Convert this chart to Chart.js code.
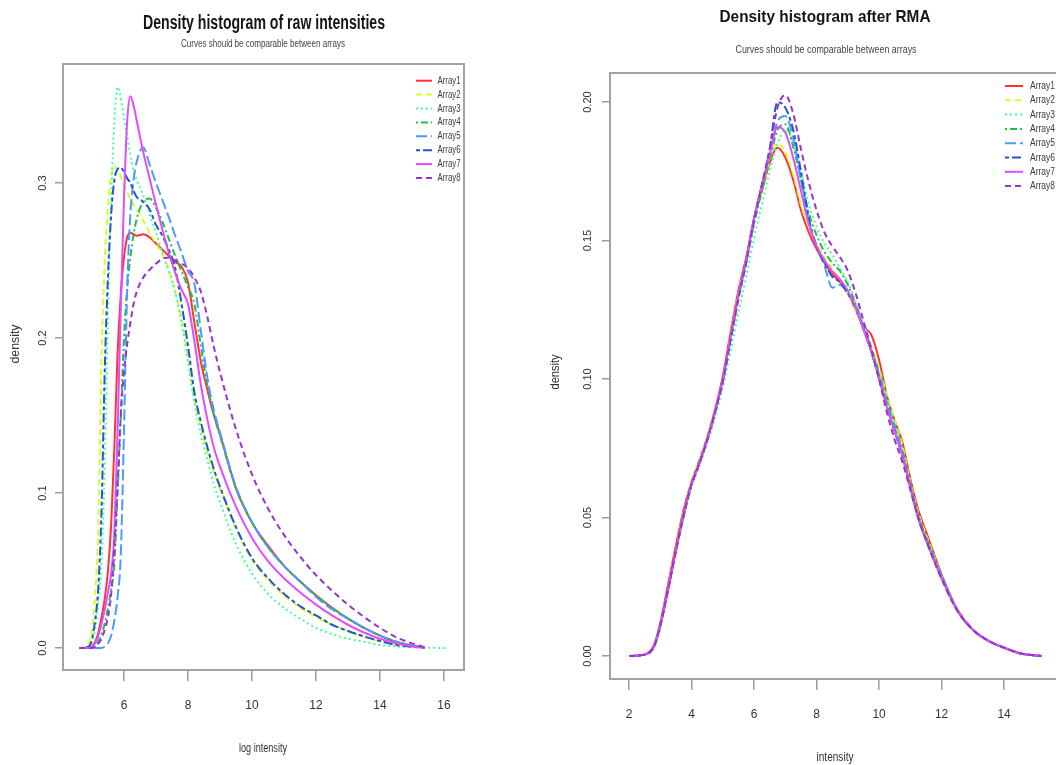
<!DOCTYPE html>
<html>
<head>
<meta charset="utf-8">
<script src="https://cdn.jsdelivr.net/npm/chart.js@4"></script>
<style>
html,body{margin:0;padding:0;background:#fff;overflow:hidden;width:1056px;height:765px;position:relative}
canvas{position:absolute;top:0}
</style>
</head>
<body>
<canvas id="rawChart" width="528" height="765" style="left:0px"></canvas>
<canvas id="rmaChart" width="540" height="765" style="left:528px"></canvas>
<script>
// ---------- data ----------
const seriesNames = ['Array1','Array2','Array3','Array4','Array5','Array6','Array7','Array8'];

// left panel: raw log intensities
const rawX = [4.6,4.9,5.0,5.1,5.2,5.3,5.4,5.5,5.6,5.7,5.8,5.9,6.0,6.1,6.2,6.3,6.4,6.6,6.8,7.0,7.2,7.4,7.6,7.8,8.0,8.2,8.4,8.6,8.8,9.0,9.5,10,10.5,11,11.5,12,12.5,13,13.5,14,14.5,15,15.4,16.1];
const raw1 = [0,0,0.001,0.004,0.01,0.02,0.032,0.05,0.08,0.13,0.19,0.228,0.252,0.265,0.268,0.267,0.266,0.267,0.265,0.261,0.257,0.253,0.249,0.246,0.236,0.21,0.185,0.167,0.151,0.138,0.103,0.081,0.066,0.053,0.043,0.034,0.026,0.019,0.013,0.008,0.004,0.0015,0.0003,null];
const raw2 = [0,0.003,0.012,0.035,0.08,0.19,0.25,0.285,0.305,0.311,0.308,0.304,0.299,0.294,0.29,0.286,0.283,0.276,0.268,0.261,0.254,0.244,0.23,0.212,0.187,0.16,0.143,0.127,0.114,0.103,0.077,0.057,0.044,0.034,0.026,0.02,0.015,0.011,0.007,0.0045,0.002,0.0008,0.0002,null];
const raw3 = [0,0,0.003,0.012,0.03,0.055,0.12,0.215,0.29,0.34,0.362,0.355,0.342,0.33,0.318,0.308,0.302,0.292,0.28,0.268,0.255,0.243,0.23,0.21,0.185,0.158,0.138,0.122,0.106,0.094,0.067,0.048,0.035,0.026,0.019,0.013,0.009,0.006,0.004,0.002,0.001,0.0005,0.0002,0];
const raw4 = [0,0,0,0.001,0.004,0.009,0.016,0.026,0.038,0.055,0.1,0.15,0.2,0.232,0.252,0.267,0.277,0.288,0.29,0.284,0.275,0.264,0.253,0.243,0.233,0.222,0.195,0.17,0.151,0.137,0.103,0.081,0.065,0.053,0.043,0.034,0.026,0.019,0.013,0.008,0.004,0.0015,0.0003,null];
const raw5 = [0,0,0,0,0,0,0.001,0.003,0.008,0.018,0.033,0.06,0.14,0.232,0.28,0.302,0.314,0.323,0.312,0.3,0.289,0.278,0.266,0.255,0.243,0.235,0.205,0.175,0.154,0.139,0.104,0.081,0.065,0.053,0.043,0.033,0.025,0.019,0.013,0.008,0.004,0.0015,0.0003,null];
const raw6 = [0,0.001,0.006,0.018,0.04,0.09,0.18,0.24,0.28,0.302,0.309,0.31,0.307,0.303,0.3,0.295,0.291,0.288,0.283,0.273,0.266,0.257,0.245,0.222,0.195,0.165,0.146,0.13,0.116,0.104,0.078,0.058,0.045,0.035,0.027,0.021,0.015,0.011,0.0075,0.0045,0.002,0.0008,0.0002,null];
const raw7 = [0,0,0.001,0.003,0.008,0.016,0.025,0.036,0.048,0.075,0.14,0.22,0.29,0.34,0.356,0.35,0.34,0.32,0.303,0.286,0.27,0.255,0.242,0.231,0.222,0.198,0.17,0.148,0.13,0.117,0.091,0.071,0.056,0.045,0.036,0.028,0.021,0.015,0.01,0.006,0.003,0.001,0.0002,null];
const raw8 = [0,0,0,0.001,0.003,0.006,0.012,0.02,0.035,0.065,0.105,0.15,0.178,0.196,0.21,0.222,0.23,0.239,0.244,0.248,0.251,0.252,0.25,0.248,0.245,0.239,0.23,0.214,0.195,0.178,0.141,0.112,0.09,0.073,0.059,0.047,0.037,0.028,0.02,0.013,0.007,0.003,0.0005,null];
const rawTicksX = [6,8,10,12,14,16];
const rawTicksY = [0,0.1,0.2,0.3];
const rawTickLabelsY = ['0.0','0.1','0.2','0.3'];

// right panel: after RMA
const rmaX = [2.0,2.5,2.8,3.0,3.25,3.5,3.75,4.0,4.2,4.5,4.75,5.0,5.25,5.5,5.75,6.0,6.25,6.5,6.75,7.0,7.25,7.5,7.75,8.0,8.25,8.5,8.75,9.0,9.25,9.5,9.75,10.0,10.25,10.5,10.75,11.0,11.25,11.5,12.0,12.5,13.0,13.5,14.0,14.5,15.0,15.2];
const rma1 = [0,0.0006,0.004,0.012,0.026,0.04,0.053,0.063,0.069,0.079,0.089,0.101,0.117,0.132,0.144,0.158,0.168,0.178,0.1835,0.18,0.172,0.161,0.153,0.147,0.142,0.138,0.135,0.131,0.125,0.119,0.116,0.107,0.094,0.085,0.077,0.064,0.053,0.045,0.0295,0.017,0.0095,0.0055,0.003,0.001,0.0002,0];
const rma2 = [0,0.0005,0.0035,0.011,0.025,0.039,0.052,0.063,0.069,0.079,0.089,0.1,0.116,0.131,0.143,0.157,0.168,0.179,0.185,0.182,0.174,0.163,0.155,0.149,0.144,0.14,0.136,0.131,0.125,0.118,0.112,0.104,0.094,0.085,0.076,0.063,0.052,0.044,0.029,0.017,0.0095,0.0055,0.003,0.001,0.0002,0];
const rma3 = [0,0.0004,0.003,0.01,0.023,0.037,0.05,0.061,0.067,0.077,0.086,0.097,0.11,0.124,0.137,0.151,0.163,0.175,0.185,0.19,0.185,0.175,0.163,0.155,0.149,0.145,0.14,0.135,0.128,0.12,0.111,0.103,0.093,0.084,0.074,0.062,0.051,0.043,0.029,0.0165,0.0095,0.0055,0.003,0.001,0.0002,0];
const rma4 = [0,0.0005,0.0035,0.011,0.024,0.038,0.051,0.062,0.068,0.078,0.088,0.099,0.114,0.129,0.142,0.156,0.168,0.179,0.19,0.192,0.184,0.172,0.16,0.152,0.146,0.142,0.139,0.134,0.127,0.119,0.111,0.102,0.092,0.083,0.074,0.062,0.051,0.043,0.029,0.0165,0.0095,0.0055,0.003,0.001,0.0002,0];
const rma5 = [0,0.0005,0.0035,0.011,0.024,0.038,0.051,0.062,0.068,0.078,0.088,0.1,0.115,0.13,0.143,0.158,0.17,0.181,0.193,0.195,0.187,0.172,0.157,0.148,0.141,0.133,0.134,0.131,0.126,0.118,0.11,0.101,0.091,0.082,0.073,0.061,0.05,0.042,0.029,0.0165,0.0095,0.0055,0.003,0.001,0.0002,0];
const rma6 = [0,0.0005,0.0035,0.011,0.024,0.038,0.051,0.062,0.068,0.078,0.088,0.1,0.115,0.13,0.143,0.158,0.17,0.183,0.2,0.198,0.19,0.175,0.158,0.148,0.142,0.137,0.135,0.131,0.126,0.118,0.11,0.1,0.09,0.081,0.072,0.061,0.05,0.042,0.028,0.0165,0.0095,0.0055,0.003,0.001,0.0002,0];
const rma7 = [0,0.0005,0.0035,0.011,0.024,0.038,0.051,0.062,0.068,0.078,0.088,0.1,0.115,0.13,0.143,0.158,0.17,0.181,0.191,0.189,0.18,0.168,0.156,0.148,0.143,0.139,0.136,0.132,0.126,0.118,0.11,0.1,0.09,0.081,0.072,0.061,0.05,0.042,0.028,0.0165,0.0095,0.0055,0.003,0.001,0.0002,0];
const rma8 = [0,0.0005,0.0035,0.011,0.024,0.038,0.051,0.062,0.068,0.078,0.088,0.099,0.114,0.129,0.142,0.157,0.17,0.183,0.198,0.2025,0.196,0.183,0.171,0.161,0.153,0.148,0.144,0.139,0.131,0.121,0.111,0.1,0.088,0.078,0.07,0.06,0.05,0.042,0.028,0.0165,0.0095,0.0055,0.003,0.001,0.0002,0];
const rmaTicksX = [2,4,6,8,10,12,14];
const rmaTicksY = [0,0.05,0.1,0.15,0.2];
const rmaTickLabelsY = ['0.00','0.05','0.10','0.15','0.20'];

// ---------- styles ----------
const seriesColors = ['#ff3333','#d4ff22','#44ff9c','#22bb4c','#4d99ff','#2255cc','#e14cff','#9a33cc'];
const seriesDash = [[],[6,4],[2,3],[2,3,7,3],[11,4],[4,3,9,3],[],[6,4]];
const FONT = '"Liberation Sans", Arial, sans-serif';

const boxPlugin = {
  id: 'rbox',
  afterDatasetsDraw(chart) {
    const {left, top, right, bottom} = chart.chartArea;
    const ctx = chart.ctx;
    ctx.save();
    ctx.strokeStyle = '#a3a3a3';
    ctx.lineWidth = 2;
    ctx.strokeRect(left, top, right - left, bottom - top);
    ctx.restore();
  }
};

function textPlugin(items, offX) {
  return {
    id: 'rtexts',
    afterDraw(chart) {
      const ctx = chart.ctx;
      items.forEach(t => {
        ctx.save();
        ctx.font = t.font;
        ctx.fillStyle = t.color;
        ctx.textAlign = 'center';
        ctx.textBaseline = 'alphabetic';
        const w = ctx.measureText(t.text).width;
        const s = t.width ? t.width / w : 1;
        ctx.translate(t.x - offX, t.y);
        if (t.rot) ctx.rotate(t.rot);
        ctx.scale(s, 1);
        ctx.fillText(t.text, 0, 0);
        ctx.restore();
      });
    }
  };
}

function legendPlugin(lg, offX) {
  return {
    id: 'rlegend',
    afterDraw(chart) {
      const ctx = chart.ctx;
      ctx.save();
      ctx.font = lg.font;
      const s = lg.textW / ctx.measureText(chart.data.datasets[0].label).width;
      ctx.restore();
      chart.data.datasets.forEach((ds, i) => {
        const y = lg.y0 + i * lg.dy;
        ctx.save();
        ctx.strokeStyle = ds.borderColor;
        ctx.lineWidth = 2;
        ctx.setLineDash(ds.borderDash || []);
        ctx.beginPath();
        ctx.moveTo(lg.x1 - offX, y);
        ctx.lineTo(lg.x2 - offX, y);
        ctx.stroke();
        ctx.setLineDash([]);
        ctx.font = lg.font;
        ctx.fillStyle = '#3a3a3a';
        ctx.textAlign = 'left';
        ctx.textBaseline = 'middle';
        ctx.translate(lg.tx - offX, y);
        ctx.scale(s, 1);
        ctx.fillText(ds.label, 0, 0);
        ctx.restore();
      });
    }
  };
}

function buildChart(id, o) {
  const n = o.ys.length;
  const datasets = o.ys.map((ys, i) => ({
    label: seriesNames[i],
    data: o.xs.map((x, j) => ({x: x, y: ys[j]})).filter(p => p.y !== null),
    borderColor: seriesColors[i],
    borderDash: seriesDash[i],
    borderWidth: 2,
    pointRadius: 0,
    fill: false,
    order: n - 1 - i,
    cubicInterpolationMode: 'monotone'
  }));
  return new Chart(document.getElementById(id), {
    type: 'line',
    data: {datasets},
    options: {
      responsive: false,
      animation: false,
      devicePixelRatio: 1,
      events: [],
      layout: {padding: {left: 0, right: o.padRight, top: o.padTop, bottom: 0}},
      plugins: {legend: {display: false}, tooltip: {enabled: false}, title: {display: false}},
      scales: {
        x: {
          type: 'linear', min: o.xMin, max: o.xMax,
          afterBuildTicks: s => { s.ticks = o.xTicks.map(v => ({value: v})); },
          afterFit: s => { s.height = o.xAxisH; },
          ticks: {autoSkip: false, maxRotation: 0, padding: 17, color: '#333',
                  font: {family: FONT, size: 12}, callback: v => String(v)},
          grid: {drawOnChartArea: false, drawTicks: true, tickLength: 11, color: '#9c9c9c', lineWidth: 1.5},
          border: {display: false}
        },
        y: {
          type: 'linear', min: o.yMin, max: o.yMax,
          afterBuildTicks: s => { s.ticks = o.yTicks.map(v => ({value: v})); },
          afterFit: s => { s.width = o.yAxisW; },
          ticks: {autoSkip: false, minRotation: 90, maxRotation: 90, crossAlign: 'center',
                  padding: o.yPad, color: '#333', font: {family: FONT, size: 11},
                  callback: (v, i) => o.yLabels[i]},
          grid: {drawOnChartArea: false, drawTicks: true, tickLength: 8, color: '#9c9c9c', lineWidth: 1.5},
          border: {display: false}
        }
      }
    },
    plugins: [boxPlugin, textPlugin(o.texts, o.offX), legendPlugin(o.legend, o.offX)]
  });
}

buildChart('rawChart', {
  offX: 0,
  xs: rawX, ys: [raw1, raw2, raw3, raw4, raw5, raw6, raw7, raw8],
  xMin: 4.094, xMax: 16.625, yMin: -0.0142, yMax: 0.3768,
  xTicks: rawTicksX, yTicks: rawTicksY, yLabels: rawTickLabelsY,
  padTop: 64, padRight: 64, xAxisH: 95, yAxisW: 63, yPad: 4.3,
  texts: [
    {text: 'Density histogram of raw intensities', font: 'bold 20px ' + FONT, color: '#151515', x: 264, y: 29, width: 242},
    {text: 'Curves should be comparable between arrays', font: '11px ' + FONT, color: '#444', x: 263, y: 46.5, width: 164},
    {text: 'log intensity', font: '12px ' + FONT, color: '#333', x: 263, y: 752, width: 48},
    {text: 'density', font: '12px ' + FONT, color: '#333', x: 19, y: 344, width: 39, rot: -Math.PI / 2}
  ],
  legend: {font: '11px ' + FONT, x1: 416, x2: 432, tx: 437.5, textW: 23, y0: 80.7, dy: 13.9}
});

buildChart('rmaChart', {
  offX: 528,
  xs: rmaX, ys: [rma1, rma2, rma3, rma4, rma5, rma6, rma7, rma8],
  xMin: 1.39, xMax: 15.79, yMin: -0.0083, yMax: 0.2105,
  xTicks: rmaTicksX, yTicks: rmaTicksY, yLabels: rmaTickLabelsY,
  padTop: 73, padRight: 8, xAxisH: 86, yAxisW: 82, yPad: 3.3,
  texts: [
    {text: 'Density histogram after RMA', font: 'bold 17px ' + FONT, color: '#151515', x: 825, y: 21.5, width: 211},
    {text: 'Curves should be comparable between arrays', font: '11px ' + FONT, color: '#444', x: 826, y: 53, width: 181},
    {text: 'intensity', font: '12px ' + FONT, color: '#333', x: 835, y: 760.5, width: 37},
    {text: 'density', font: '12px ' + FONT, color: '#333', x: 559, y: 372, width: 35, rot: -Math.PI / 2}
  ],
  legend: {font: '11px ' + FONT, x1: 1005, x2: 1023, tx: 1030, textW: 25, y0: 86, dy: 14.3}
});
</script>
</body>
</html>
